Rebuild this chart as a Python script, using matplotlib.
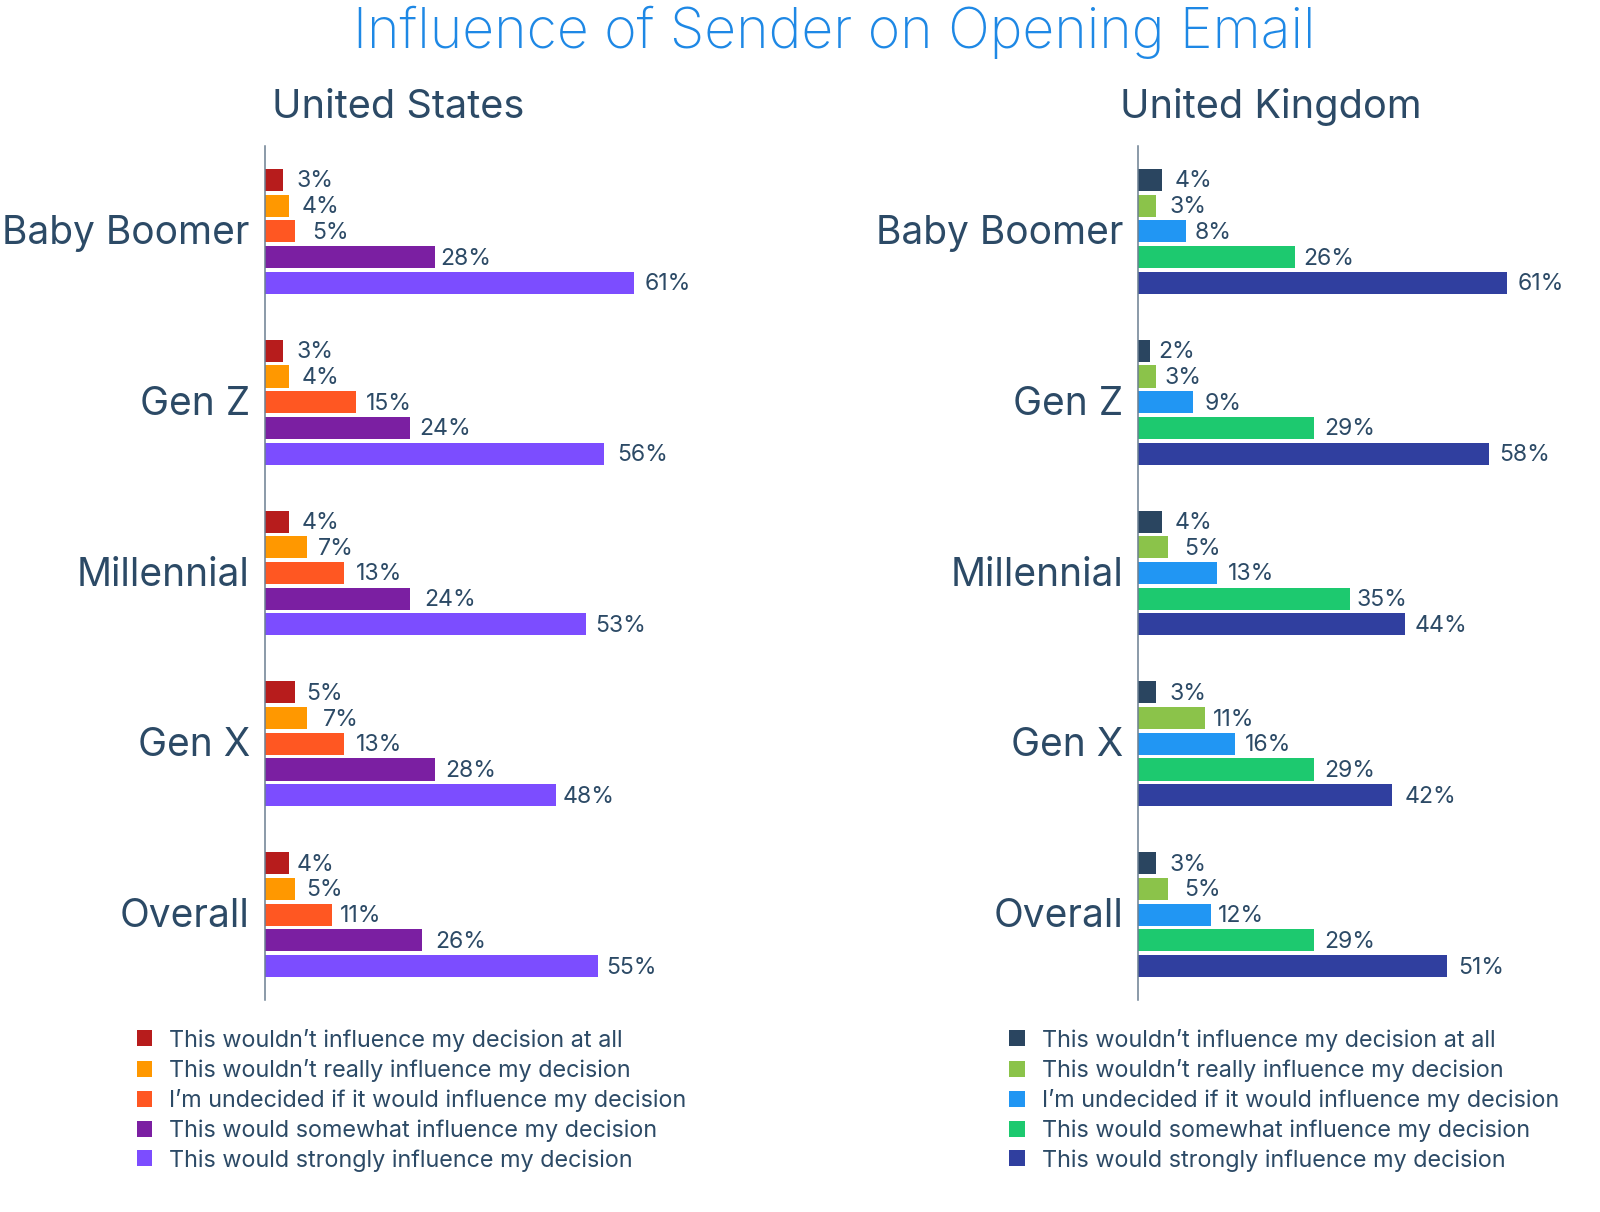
import matplotlib
matplotlib.use("Agg")
import matplotlib.pyplot as plt
from matplotlib.patches import Patch
from matplotlib.transforms import ScaledTranslation

FONT = "Inter"
plt.rcParams["font.family"] = [FONT, "DejaVu Sans"]

generations = ["Baby Boomer", "Gen Z", "Millennial", "Gen X", "Overall"]
responses = [
    "This wouldn’t influence my decision at all",
    "This wouldn’t really influence my decision",
    "I’m undecided if it would influence my decision",
    "This would somewhat influence my decision",
    "This would strongly influence my decision",
]
us_not_at_all = [3, 3, 4, 5, 4]
us_not_really = [4, 4, 7, 7, 5]
us_undecided = [5, 15, 13, 13, 11]
us_somewhat = [28, 24, 24, 28, 26]
us_strongly = [61, 56, 53, 48, 55]
uk_not_at_all = [4, 2, 4, 3, 3]
uk_not_really = [3, 3, 5, 11, 5]
uk_undecided = [8, 9, 13, 16, 12]
uk_somewhat = [26, 29, 35, 29, 29]
uk_strongly = [61, 58, 44, 42, 51]

us_colors = ["#B71C1C", "#FF9800", "#FF5722", "#7B1FA2", "#7C4DFF"]
uk_colors = ["#2A4560", "#8BC34A", "#2196F3", "#1DC96F", "#303F9F"]
TEXT = "#2C4A66"
TITLE = "#1E88E5"

# horizontal gap between bar end and its label, in pixels (irregular in the source)
us_gaps = [[13, 13, 12, 11, 7], [12, 12, 10, 15, 11], [17, 10, 12, 12, 8], [6, 9, 14, 11, 13], [10, 13, 9, 7, 8]]
uk_gaps = [[12, 8, 12, 13, 13], [13, 8, 16, 8, 16], [8, 12, 11, 10, 7], [8, 11, 7, 11, 11], [10, 10, 10, 12, 11]]

W, H = 1600, 1212
fig = plt.figure(figsize=(W / 100, H / 100), dpi=100, facecolor="white")
PX = 72 / 100


def panel(x0, series, colors, gaps, title, title_x, legend_x):
    ax = fig.add_axes([x0 / W, 1 - 1000 / H, 424 / W, 854 / H])
    ax.set_xlim(0, 70)
    ax.set_ylim(4.5, -0.5)
    handles = []
    for j, (vals, col) in enumerate(zip(series, colors)):
        pos = [i + (j - 2) * 0.1505 for i in range(len(vals))]
        bars = ax.barh(pos, vals, height=0.129, color=col, edgecolor="none")
        handles.append(Patch(facecolor=col, edgecolor="none"))
        for i, (b, v) in enumerate(zip(bars, vals)):
            ax.annotate(f"{v}%", (v, pos[i]), xytext=(gaps[j][i] * PX, -1.5 * PX),
                        textcoords="offset points", va="center", ha="left",
                        fontsize=16.6, color=TEXT, fontweight="normal")
    for s in ["top", "right", "bottom"]:
        ax.spines[s].set_visible(False)
    ax.spines["left"].set_color("#6B7F91")
    ax.spines["left"].set_linewidth(1.1)
    ax.set_xticks([])
    ax.set_yticks(range(len(generations)))
    ax.set_yticklabels(generations, fontsize=28, color=TEXT, fontweight="normal")
    ax.tick_params(axis="y", length=0, pad=15 * PX)
    for lab in ax.get_yticklabels():
        lab.set_transform(lab.get_transform() + ScaledTranslation(0, 2 / 100, fig.dpi_scale_trans))
    fig.text(title_x / W, 1 - 117.5 / H, title, ha="center", va="baseline",
             fontsize=28.6, color=TEXT, fontweight="normal")
    fig.legend(handles, responses, loc="upper left",
               bbox_to_anchor=(legend_x / W, 1 - 1028.5 / H),
               frameon=False, fontsize=16.85, labelcolor=TEXT,
               handlelength=0.68, handleheight=0.68, handletextpad=0.72,
               labelspacing=0.31, borderaxespad=0, borderpad=0)


panel(265, [us_not_at_all, us_not_really, us_undecided, us_somewhat, us_strongly],
      us_colors, us_gaps, "United States", 398, 136.5)
panel(1138, [uk_not_at_all, uk_not_really, uk_undecided, uk_somewhat, uk_strongly],
      uk_colors, uk_gaps, "United Kingdom", 1271, 1009)
fig.text(834 / W, 1 - 32 / H, "Influence of Sender on Opening Email", ha="center", va="center",
         fontsize=39.8, color=TITLE, fontweight="light")
fig.savefig("out.png", dpi=100, facecolor="white")
